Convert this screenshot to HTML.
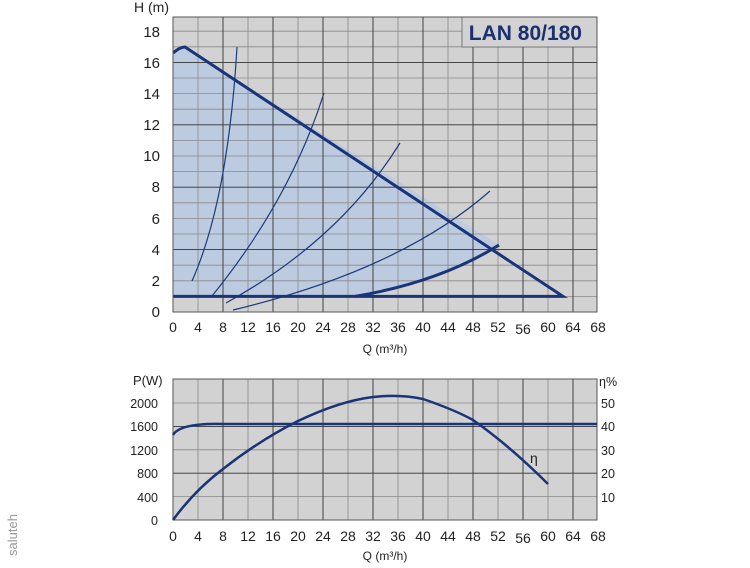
<!DOCTYPE html><html><head><style>body{margin:0;background:#fff;width:750px;height:563px;overflow:hidden}</style></head><body>
<svg width="750" height="563" xmlns="http://www.w3.org/2000/svg" font-family="Liberation Sans, Arial, sans-serif">
<defs><clipPath id="c1"><rect x="173" y="17" width="424" height="295"/></clipPath></defs>
<rect x="173" y="17" width="424" height="295" fill="#d2d2d2"/>
<g clip-path="url(#c1)">
<path d="M173,53 Q180,47 185,47 L499,245 Q440,282 355,296.4 L173,296.4 Z" fill="#bccbe0"/>
<g stroke="#8a8a8a" stroke-width="0.8">
<line x1="173" x2="597" y1="296.4" y2="296.4"/><line x1="173" x2="597" y1="280.8" y2="280.8"/><line x1="173" x2="597" y1="265.2" y2="265.2"/><line x1="173" x2="597" y1="234" y2="234"/><line x1="173" x2="597" y1="218.4" y2="218.4"/><line x1="173" x2="597" y1="202.8" y2="202.8"/><line x1="173" x2="597" y1="171.6" y2="171.6"/><line x1="173" x2="597" y1="156" y2="156"/><line x1="173" x2="597" y1="140.4" y2="140.4"/><line x1="173" x2="597" y1="109.2" y2="109.2"/><line x1="173" x2="597" y1="93.6" y2="93.6"/><line x1="173" x2="597" y1="78" y2="78"/><line x1="173" x2="597" y1="46.8" y2="46.8"/><line x1="173" x2="597" y1="31.2" y2="31.2"/>
<line y1="17" y2="312" x1="198" x2="198"/><line y1="17" y2="312" x1="248" x2="248"/><line y1="17" y2="312" x1="298" x2="298"/><line y1="17" y2="312" x1="348" x2="348"/><line y1="17" y2="312" x1="398" x2="398"/><line y1="17" y2="312" x1="448" x2="448"/><line y1="17" y2="312" x1="498" x2="498"/><line y1="17" y2="312" x1="548" x2="548"/>
</g>
<g stroke="#333" stroke-width="0.9">
<line x1="173" x2="597" y1="249.6" y2="249.6"/><line x1="173" x2="597" y1="187.2" y2="187.2"/><line x1="173" x2="597" y1="124.8" y2="124.8"/><line x1="173" x2="597" y1="62.4" y2="62.4"/>
<line y1="17" y2="312" x1="223" x2="223"/><line y1="17" y2="312" x1="273" x2="273"/><line y1="17" y2="312" x1="323" x2="323"/><line y1="17" y2="312" x1="373" x2="373"/><line y1="17" y2="312" x1="423" x2="423"/><line y1="17" y2="312" x1="473" x2="473"/><line y1="17" y2="312" x1="523" x2="523"/><line y1="17" y2="312" x1="573" x2="573"/>
</g>
<rect x="462" y="17" width="135" height="30" fill="#d2d2d2" stroke="#666" stroke-width="0.8"/>
<g fill="none" stroke="#1d3a7a" stroke-width="1.2">
<path d="M192,281 Q228,200 237,47"/>
<path d="M212,296 Q290,200 324,93"/>
<path d="M226,303 Q340,240 400,143"/>
<path d="M233,310 Q400,270 490,191"/>
</g>
<g fill="none" stroke="#1a347a" stroke-width="3">
<path d="M355,296.4 Q440,282 499,245"/>
<path d="M173,53 Q180,47 185,47 L563,296.4 L173,296.4"/>
</g>
</g>
<rect x="173" y="17" width="424" height="295" fill="none" stroke="#555" stroke-width="1"/>
<text x="582" y="40" font-size="21" font-weight="bold" fill="#1a3070" text-anchor="end">LAN 80/180</text>
<g font-size="15" fill="#222" text-anchor="end">
<text x="160" y="317">0</text><text x="160" y="286">2</text><text x="160" y="255">4</text><text x="160" y="224">6</text><text x="160" y="192">8</text><text x="160" y="161">10</text><text x="160" y="130">12</text><text x="160" y="99">14</text><text x="160" y="68">16</text><text x="160" y="37">18</text>
</g>
<text x="134" y="12" font-size="14" fill="#222">H (m)</text>
<g font-size="14" fill="#222" text-anchor="middle">
<text x="173" y="332">0</text><text x="198" y="332">4</text><text x="223" y="332">8</text><text x="248" y="332">12</text><text x="273" y="332">16</text><text x="298" y="332">20</text><text x="323" y="332">24</text><text x="348" y="332">28</text><text x="373" y="332">32</text><text x="398" y="332">36</text><text x="423" y="332">40</text><text x="448" y="332">44</text><text x="473" y="332">48</text><text x="498" y="332">52</text><text x="523" y="334">56</text><text x="548" y="332">60</text><text x="573" y="332">64</text><text x="598" y="332">68</text>
</g>
<text x="385" y="353" font-size="12" fill="#222" text-anchor="middle">Q (m³/h)</text>

<rect x="173" y="379" width="424" height="141" fill="#d2d2d2"/>
<g stroke="#8a8a8a" stroke-width="0.8">
<line x1="173" x2="597" y1="496.6" y2="496.6"/><line x1="173" x2="597" y1="449.8" y2="449.8"/><line x1="173" x2="597" y1="403" y2="403"/>
<line y1="379" y2="520" x1="198" x2="198"/><line y1="379" y2="520" x1="248" x2="248"/><line y1="379" y2="520" x1="298" x2="298"/><line y1="379" y2="520" x1="348" x2="348"/><line y1="379" y2="520" x1="398" x2="398"/><line y1="379" y2="520" x1="448" x2="448"/><line y1="379" y2="520" x1="498" x2="498"/><line y1="379" y2="520" x1="548" x2="548"/>
</g>
<g stroke="#333" stroke-width="0.9">
<line x1="173" x2="597" y1="473.2" y2="473.2"/><line x1="173" x2="597" y1="426.4" y2="426.4"/>
<line y1="379" y2="520" x1="223" x2="223"/><line y1="379" y2="520" x1="273" x2="273"/><line y1="379" y2="520" x1="323" x2="323"/><line y1="379" y2="520" x1="373" x2="373"/><line y1="379" y2="520" x1="423" x2="423"/><line y1="379" y2="520" x1="473" x2="473"/><line y1="379" y2="520" x1="523" x2="523"/><line y1="379" y2="520" x1="573" x2="573"/>
</g>
<rect x="173" y="379" width="424" height="141" fill="none" stroke="#555"/>
<g fill="none" stroke="#1a347a" stroke-width="2.5">
<path d="M173,435 Q180,423 223,424 L597,424"/>
<path d="M173,520 Q195,490 223,469 Q260,440 298,421 Q340,401 373,397 Q400,394 423,399 Q455,410 473,420 Q510,446 548,484"/>
</g>
<text x="530" y="463" font-size="14" fill="#222">η</text>
<g font-size="12.5" fill="#222" text-anchor="end">
<text x="158" y="525">0</text><text x="158" y="502">400</text><text x="158" y="478">800</text><text x="158" y="455">1200</text><text x="158" y="431">1600</text><text x="158" y="408">2000</text>
</g>
<text x="133" y="385" font-size="13" fill="#222">P(W)</text>
<g font-size="12.5" fill="#222">
<text x="601" y="502">10</text><text x="601" y="478">20</text><text x="601" y="455">30</text><text x="601" y="431">40</text><text x="601" y="408">50</text><text x="599" y="386">η%</text>
</g>
<g font-size="14" fill="#222" text-anchor="middle">
<text x="173" y="541">0</text><text x="198" y="541">4</text><text x="223" y="541">8</text><text x="248" y="541">12</text><text x="273" y="541">16</text><text x="298" y="541">20</text><text x="323" y="541">24</text><text x="348" y="541">28</text><text x="373" y="541">32</text><text x="398" y="541">36</text><text x="423" y="541">40</text><text x="448" y="541">44</text><text x="473" y="541">48</text><text x="498" y="541">52</text><text x="523" y="543">56</text><text x="548" y="541">60</text><text x="573" y="541">64</text><text x="598" y="541">68</text>
</g>
<text x="385" y="560" font-size="12" fill="#222" text-anchor="middle">Q (m³/h)</text>
<text transform="translate(17,556) rotate(-90)" font-size="13" fill="#999">saluteh</text>
</svg>
</body></html>
